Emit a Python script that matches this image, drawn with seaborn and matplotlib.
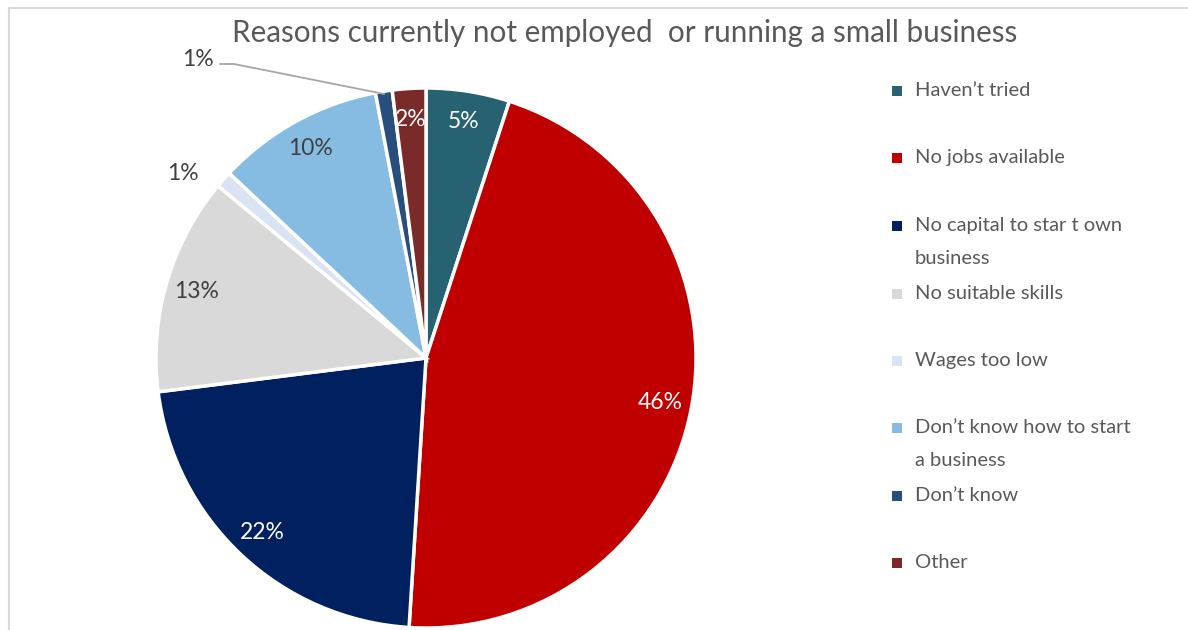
import matplotlib
matplotlib.use("Agg")
import matplotlib.pyplot as plt
import seaborn as sns
import numpy as np
from matplotlib.lines import Line2D
from matplotlib.patches import Rectangle

# Survey responses (percent of respondents)
categories = [
    "Haven\u2019t tried",
    "No jobs available",
    "No capital to star t own\nbusiness",
    "No suitable skills",
    "Wages too low",
    "Don\u2019t know how to start\na business",
    "Don\u2019t know",
    "Other",
]
shares = [5, 46, 22, 13, 1, 10, 1, 2]
colors = ["#266272", "#c00000", "#002060", "#d9d9d9",
          "#dae3f3", "#87bce2", "#284e7c", "#7b2a2a"]
label_colors = ["white", "white", "white", "#404040",
                "#404040", "#404040", "#404040", "white"]
title = "Reasons currently not employed  or running a small business"

sns.set_theme(style="white")
plt.rcParams["font.family"] = ["Lato", "DejaVu Sans"]

W, H = 1188, 630
fig = plt.figure(figsize=(W / 100, H / 100), dpi=100)
fig.patch.set_facecolor("white")

# pie axes placed so the pie has centre (426, 358) px and radius 270 px
cx, cy, r = 426, 358, 270
ax = fig.add_axes([(cx - r) / W, (H - cy - r) / H, 2 * r / W, 2 * r / H])

wedges, texts = ax.pie(
    shares, colors=colors, startangle=90, counterclock=False, radius=1.0,
    wedgeprops=dict(edgecolor="white", linewidth=2.5),
)
ax.set_xlim(-1, 1)
ax.set_ylim(-1, 1)
ax.set_aspect("equal")
ax.axis("off")

pct_size = 16.5
total = float(sum(shares))
cum = 0.0
for i, (v, w) in enumerate(zip(shares, wedges)):
    mid = (cum + v / 2) / total
    cum += v
    ang = np.deg2rad(90 - 360 * mid)
    txt = f"{v}%"
    if i == 4:
        # small slice labelled outside
        lx, ly = (183 - cx) / r, (cy - 173) / r
        ax.text(lx, ly, txt, ha="center", va="center", fontsize=pct_size,
                color="#404040", clip_on=False)
    elif i == 6:
        # small slice with a leader line
        lx, ly = (198 - cx) / r, (cy - 60) / r
        ax.text(lx, ly, txt, ha="center", va="center", fontsize=pct_size,
                color="#404040", clip_on=False)
        ex = 0.99 * np.cos(ang)
        ey = 0.99 * np.sin(ang)
        x0 = (220 - cx) / r
        x1 = (234 - cx) / r
        y0 = (cy - 64) / r
        ax.add_line(Line2D([x0, x1, ex], [y0, y0, ey],
                           color="#a6a6a6", linewidth=1.3, clip_on=False))
    else:
        d = 0.885
        ax.text(d * np.cos(ang), d * np.sin(ang), txt, ha="center", va="center",
                fontsize=pct_size, color=label_colors[i])

fig.text(625 / W, 1 - 33 / H, title, ha="center", va="center",
         fontsize=21.3, color="#595959")

# legend drawn as squares and text; the first text line sits on the row
row_y = [91, 158, 226, 294, 361, 428, 496, 563]
for y, lab, c in zip(row_y, categories, colors):
    s = 10
    fig.patches.append(Rectangle(((897 - s / 2) / W, 1 - (y + s / 2) / H),
                                 s / W, s / H, transform=fig.transFigure,
                                 facecolor=c, edgecolor="none"))
    fig.text(915 / W, 1 - (y - 9) / H, lab, ha="left", va="top",
             fontsize=14.5, color="#595959", linespacing=2.12)

# outer frame lines
fig.add_artist(Line2D([9 / W, 1], [1 - 8 / H, 1 - 8 / H], transform=fig.transFigure,
                      color="#d9d9d9", linewidth=1.5))
fig.add_artist(Line2D([9 / W, 9 / W], [0, 1 - 8 / H], transform=fig.transFigure,
                      color="#d9d9d9", linewidth=1.5))

fig.savefig("out.png", dpi=100)
